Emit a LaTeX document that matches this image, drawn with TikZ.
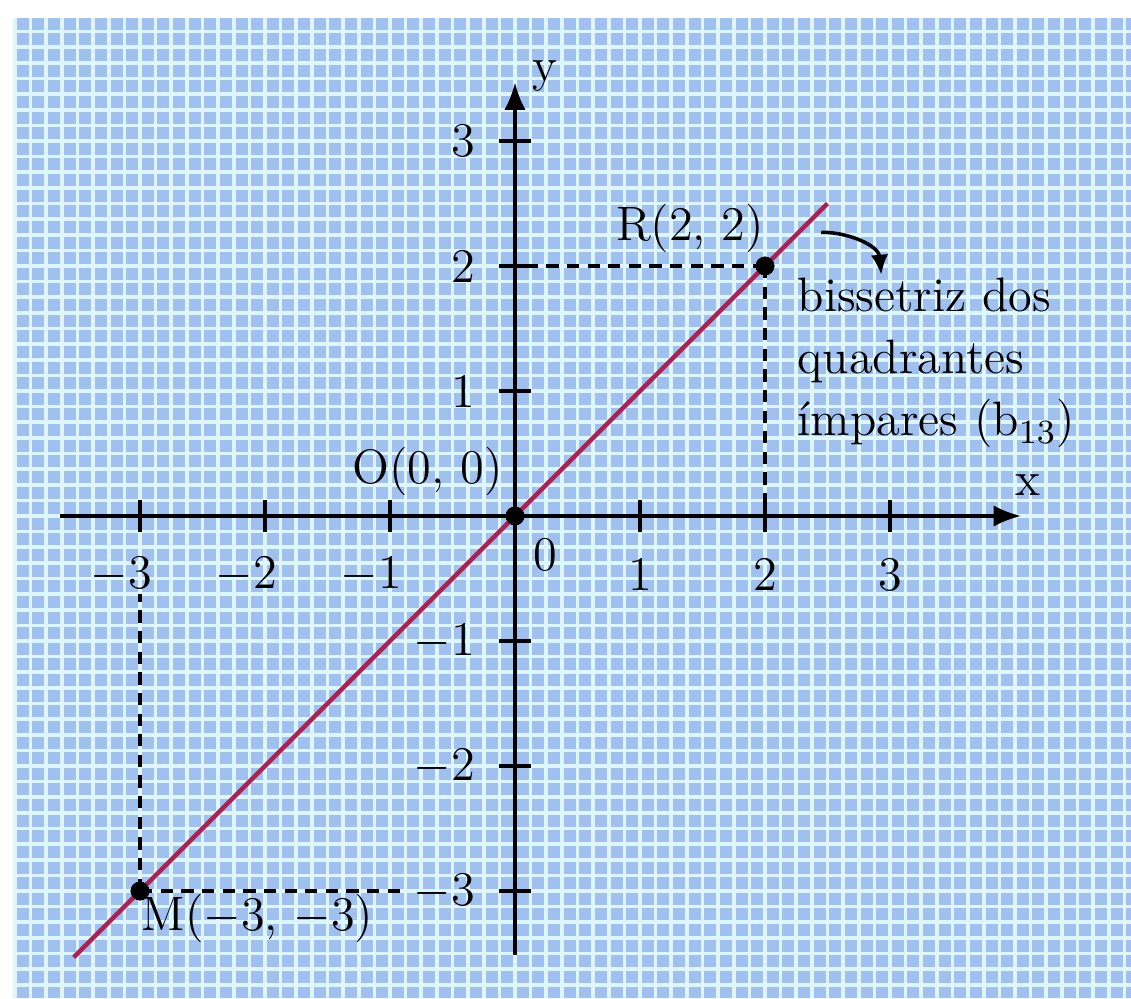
\documentclass[tikz,border=0pt]{standalone}
\usepackage{fontspec}
\usetikzlibrary{arrows.meta}
\definecolor{azulgrade}{RGB}{160,192,240}
\definecolor{brancograde}{RGB}{222,246,255}
\definecolor{bissetriz}{RGB}{172,32,82}

\begin{document}
\begin{tikzpicture}[line width=0.85pt,>={Latex[length=2.2mm,width=1.7mm]},
  every node/.style={font=\fontsize{11}{14.2}\selectfont},
  tracejado/.style={line width=0.7pt,dash pattern=on 2.8pt off 1.9pt},
  ponto/.style={circle,fill=black,inner sep=0pt,minimum size=1.5mm}]
  \useasboundingbox (-4.12,-3.856) rectangle (4.928,4.128);
  % fundo quadriculado
  \fill[azulgrade] (-4,-3.856) rectangle (4.928,3.984);
  \draw[brancograde,line width=0.85pt] (-4,-3.856) grid[step=0.125] (4.928,3.984);
  % pontos
  \node[ponto] (O) at (0,0) {};
  \node[ponto] (R) at (2,2) {};
  \node[ponto] (M) at (-3,-3) {};
  % tracejados
  \coordinate (Ry) at (0,2);
  \coordinate (Rx) at (2,0);
  \coordinate (My) at (-0.92,-3);
  \coordinate (Mx) at (-3,-0.62);
  \draw[tracejado] (R.center) -- (Ry);
  \draw[tracejado] (R.center) -- (Rx);
  \draw[tracejado] (M.center) -- (My);
  \draw[tracejado] (M.center) -- (Mx);
  % bissetriz
  \coordinate (b1) at (-3.53,-3.53);
  \coordinate (b2) at (2.5,2.5);
  \draw[bissetriz,line width=1pt] (b1) -- (b2);
  % eixos
  \coordinate (xini) at (-3.64,0);
  \coordinate (xfim) at (4.05,0);
  \coordinate (yini) at (0,-3.51);
  \coordinate (yfim) at (0,3.47);
  \draw[->] (xini) -- (xfim);
  \draw[->] (yini) -- (yfim);
  \node (xlab) at (4.1,0.25) {x};
  \node (ylab) at (0.24,3.52) {y};
  \foreach \k in {-3,-2,-1,1,2,3}{
    \draw (\k,-0.13) -- (\k,0.13);
    \draw (-0.13,\k) -- (0.13,\k);
  }
  \foreach \k in {1,2,3}{
    \node (tx\k) at (\k,-0.47) {\k};
    \node (txm\k) at (-\k,-0.47) {\llap{$-$}\k};
    \node[anchor=east] (ty\k) at (-0.19,\k) {\k};
    \node[anchor=east] (tym\k) at (-0.19,-\k) {$-$\k};
  }
  \node (zero) at (0.24,-0.31) {0};
  \node[ponto] at (O) {};
  \node[ponto] at (R) {};
  \node[ponto] at (M) {};
  % rotulos
  \node (Rlab) at (1.4,2.3) {R(2, 2)};
  \node (Olab) at (-0.7,0.36) {O(0, 0)};
  \node (Mlab) at (-2.06,-3.22) {M($-$3, $-$3)};
  \node[anchor=north west,align=left] (texto) at (2.13,2.04)
    {bissetriz dos\\quadrantes\\ímpares (b\textsubscript{13})};
  \coordinate (saida) at (2.45,2.27);
  \coordinate (ponta) at (2.93,1.93);
  \draw[->,line width=0.8pt,>={Latex[length=1.6mm,width=1.4mm]}] (saida) to[out=0,in=95] (ponta);
\end{tikzpicture}
\end{document}
